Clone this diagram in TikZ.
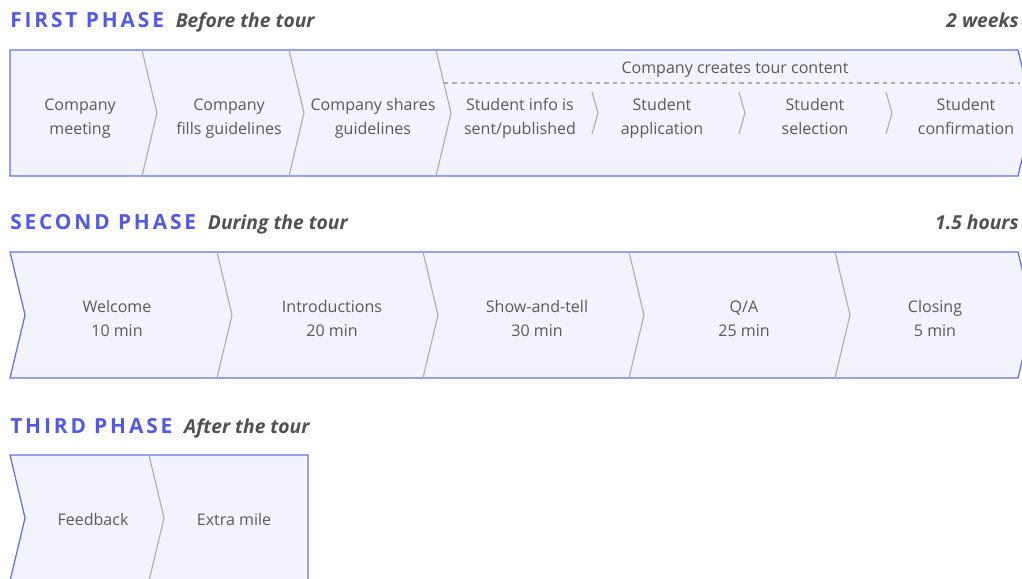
\documentclass[tikz,border=0pt]{standalone}
\usepackage{fontspec}
\setmainfont{Open Sans}
\newfontfamily\headfont[LetterSpace=14]{Open Sans}
\usetikzlibrary{positioning}

\definecolor{phaseblue}{HTML}{5258E8}
\definecolor{bandline}{HTML}{6470F0}
\definecolor{bandfill}{HTML}{F3F3FD}
\definecolor{sepgray}{HTML}{ADADAD}
\definecolor{txtgray}{HTML}{5A5A5A}

\begin{document}
\begin{tikzpicture}[x=0.025cm, y=-0.025cm,
  band/.style = {draw=bandline, fill=bandfill, line width=0.9pt},
  sep/.style = {draw=sepgray, line width=0.8pt},
  txt/.style = {text=txtgray, align=center, inner sep=0pt, anchor=base, font=\fontsize{11.4}{16.4}\selectfont},
  head/.style = {text=phaseblue, inner sep=0pt, anchor=base west, font=\headfont\bfseries\fontsize{14.8}{16}\selectfont},
  sub/.style = {text=txtgray!90!black, inner sep=0pt, anchor=base west, font=\bfseries\itshape\fontsize{13.7}{16}\selectfont}]
\useasboundingbox (0,0) rectangle (1022,579);
\begin{scope}
\clip (0,0) rectangle (1022,579);

% first phase
\draw[band] (10,50) -- (1018,50) -- (1033,113) -- (1018,176) -- (10,176) -- cycle;
\foreach \x in {142,289,436}
  \draw[sep] (\x,50) -- (\x+15,113) -- (\x,176);
\foreach \x in {592,739,886}
  \draw[sep] (\x,92) -- (\x+6,113) -- (\x,134);
\draw[sep, dashed] (444,83) -- (1020,83);

% second phase
\draw[band] (10,252) -- (1018,252) -- (1033,315) -- (1018,378) -- (10,378) -- (25,315) -- cycle;
\foreach \x in {217,423,629,835}
  \draw[sep] (\x,252) -- (\x+15,315) -- (\x,378);

% third phase
\draw[band] (10,455) -- (308,455) -- (308,581) -- (10,581) -- (25,518) -- cycle;
\draw[sep] (149,455) -- (164,518) -- (149,581);
\end{scope}

% titles
\node[head] (t1) at (10,27) {FIRST PHASE};
\node[sub] (s1) at ([xshift=8]t1.base east) {Before the tour};
\node[sub, anchor=base east] (d1) at (1019,27) {2 weeks};
\node[head] (t2) at (10,229) {SECOND PHASE};
\node[sub] (s2) at ([xshift=8]t2.base east) {During the tour};
\node[sub, anchor=base east] (d2) at (1019,229) {1.5 hours};
\node[head] (t3) at (10,433) {THIRD PHASE};
\node[sub] (s3) at ([xshift=8]t3.base east) {After the tour};

% steps (base = last line)
\node[txt] (meet) at (80,134) {Company\\meeting};
\node[txt] (fill) at (229,134) {Company\\fills guidelines};
\node[txt] (share) at (373,134) {Company shares\\guidelines};
\node[txt] (content) at (735,73) {Company creates tour content};
\node[txt] (info) at (520,134) {Student info is\\sent/published};
\node[txt] (apply) at (662,134) {Student\\application};
\node[txt] (select) at (815,134) {Student\\selection};
\node[txt] (confirm) at (966,134) {Student\\confirmation};

\node[txt] (welcome) at (117,336) {Welcome\\10 min};
\node[txt] (intro) at (332,336) {Introductions\\20 min};
\node[txt] (show) at (537,336) {Show-and-tell\\30 min};
\node[txt] (qa) at (744,336) {Q/A\\25 min};
\node[txt] (close) at (935,336) {Closing\\5 min};

\node[txt] (feed) at (93,525) {Feedback};
\node[txt] (extra) at (234,525) {Extra mile};
\end{tikzpicture}
\end{document}
